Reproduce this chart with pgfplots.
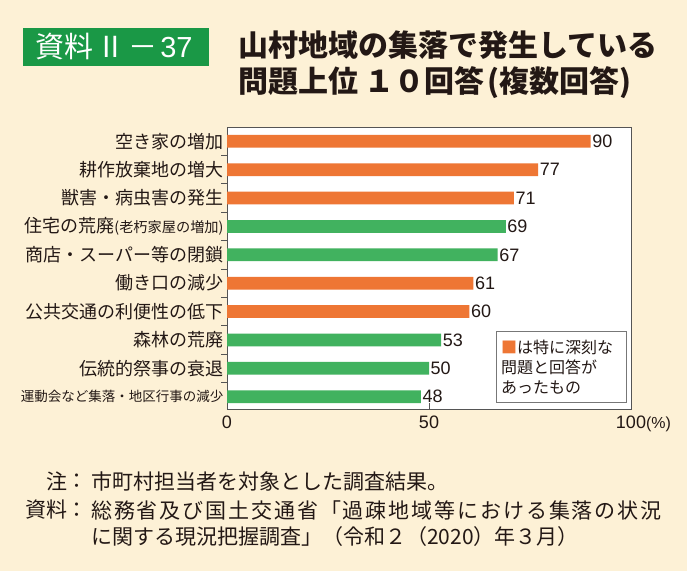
\documentclass[border=0pt]{standalone}
\usepackage{fontspec}
\usepackage{pgfplots}
\pgfplotsset{compat=1.18}
\setmainfont{Noto Sans CJK JP}
\newfontfamily\numfont{Liberation Sans}
\definecolor{bg}{HTML}{FDF1D6}
\definecolor{barorange}{HTML}{EE7634}
\definecolor{bargreen}{HTML}{41B25F}
\definecolor{titlegreen}{HTML}{1A9846}
\definecolor{textc}{HTML}{231815}
\definecolor{axisc}{HTML}{555555}
\definecolor{legc}{HTML}{777777}
\begin{document}
\begin{tikzpicture}
\fill[bg] (0,0) rectangle (687pt,571pt);
\path[use as bounding box] (0,0) rectangle (687pt,571pt);
% title
\fill[titlegreen] (23pt,505pt) rectangle (209pt,543pt);
\node[text=white, font=\fontsize{29}{32}\selectfont, anchor=center] at (114pt,524pt) {資料\hspace{3pt}Ⅱ\hspace{3pt}－\hspace{3pt}{\numfont 37}};
\node[anchor=west, inner sep=0pt, text=textc, font=\bfseries\fontsize{30}{32}\selectfont] at (238pt,526pt) {山村地域の集落で発生している};
\node[anchor=west, inner sep=0pt, text=textc, font=\bfseries\fontsize{30}{32}\selectfont] at (238pt,488pt) {問題上位\hspace{6pt}１０回答\hspace{3pt}(複数回答)};
\begin{axis}[
  at={(227pt,162pt)}, anchor=south west,
  scale only axis, width=404pt, height=282pt,
  xmin=0, xmax=100, ymin=-0.504, ymax=9.434, y dir=reverse,
  axis background/.style={fill=white},
  axis line style={draw=axisc, line width=0.8pt},
  xtick={0,50,100},
  xticklabels={0,50,{100\rlap{\fontsize{16}{18}\selectfont(\%)}}},
  ytick={0,...,9},
  yticklabels={
    {空き家の増加},
    {耕作放棄地の増大},
    {獣害・病虫害の発生},
    {住宅の荒廃{\fontsize{14.2}{15}\selectfont(老朽家屋の増加)}},
    {商店・スーパー等の閉鎖},
    {働き口の減少},
    {公共交通の利便性の低下},
    {森林の荒廃},
    {伝統的祭事の衰退},
    {\fontsize{13.5}{15}\selectfont 運動会など集落・地区行事の減少}},
  minor xtick={50}, minor ytick={0.5,1.5,...,8.5},
  major tick length=0pt, minor tick length=6pt,
  tick align=inside, xtick pos=bottom, ytick pos=left,
  tick style={draw=axisc, line width=0.8pt},
  xticklabel style={font=\numfont\fontsize{18}{20}\selectfont, text=textc, yshift=-3pt},
  yticklabel style={font=\fontsize{18}{20}\selectfont, text=textc},
  /pgf/number format/assume math mode=true,
  xbar, bar width=12.7pt, bar shift=0pt,
  nodes near coords, point meta=x,
  nodes near coords style={font=\numfont\fontsize{18}{20}\selectfont, text=textc, anchor=west, inner sep=1.5pt},
  clip=false,
]
\addplot[fill=barorange, draw=none] coordinates {(90,0) (77,1) (71,2) (61,5) (60,6)};
\addplot[fill=bargreen, draw=none] coordinates {(69,3) (67,4) (53,7) (50,8) (48,9)};
\end{axis}
% annotation box
\draw[draw=legc, fill=white, line width=0.8pt] (496pt,169pt) rectangle (626pt,240pt);
\node[anchor=west, inner sep=0pt, text=textc, font=\fontsize{16}{18}\selectfont] at (501pt,223.7pt) {{\color{barorange}■}は特に深刻な};
\node[anchor=west, inner sep=0pt, text=textc, font=\fontsize{16}{18}\selectfont] at (501pt,203.7pt) {問題と回答が};
\node[anchor=west, inner sep=0pt, text=textc, font=\fontsize{16}{18}\selectfont] at (501pt,183.3pt) {あったもの};
% notes
\begin{scope}[every node/.style={inner sep=0pt, text=textc, font=\fontsize{21}{24}\selectfont}]
\node[anchor=east] at (68pt,89.3pt) {注};
\node[anchor=center] at (77pt,89.3pt) {：};
\node[anchor=west] at (91pt,89.3pt) {市町村担当者を対象とした調査結果。};
\node[anchor=east] at (68pt,61pt) {資料};
\node[anchor=center] at (77pt,61pt) {：};
\node[anchor=west] at (91pt,61pt) {\addfontfeature{LetterSpace=9}総務省及び国土交通省「過疎地域等における集落の状況};
\node[anchor=west] at (91pt,34.3pt) {に関する現況把握調査」（令和２（2020）年３月）};
\end{scope}
\end{tikzpicture}
\end{document}
